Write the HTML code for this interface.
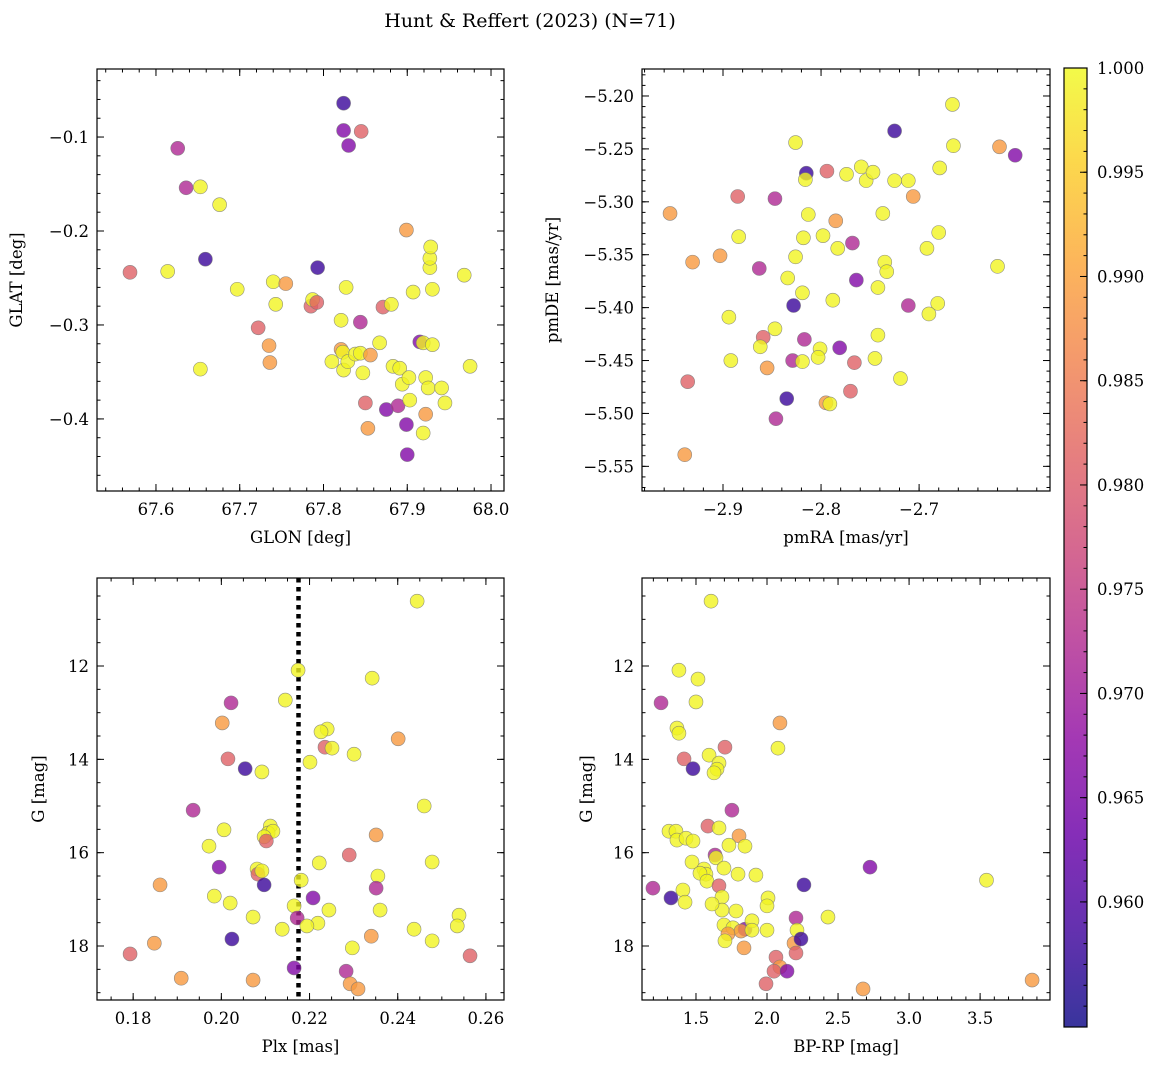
<!DOCTYPE html>
<html><head><meta charset="utf-8"><style>
body{margin:0;background:#fff;}
svg text{font-family:"DejaVu Serif","Liberation Serif",serif;fill:#000;}
</style></head><body>
<svg id="fig" width="1161" height="1068" viewBox="0 0 1161 1068" xmlns="http://www.w3.org/2000/svg">
<text x="530" y="27" font-size="19" text-anchor="middle">Hunt &amp; Reffert (2023) (N=71)</text>
</svg>
<script>
const Y=0.9995,O=0.989,P=0.981,M=0.972,V=0.966,B=0.958;
// Panel 1: GLON/GLAT
const glon=[67.824,67.824,67.830,67.845,67.626,67.636,67.653,67.676,67.569,67.614,67.659,67.697,67.722,67.740,67.743,67.755,67.793,67.653,67.735,67.736,67.785,67.787,67.792,67.827,67.821,67.821,67.823,67.824,67.829,67.810,67.838,67.844,67.847,67.844,67.856,67.850,67.853,67.867,67.871,67.881,67.875,67.883,67.891,67.889,67.894,67.899,67.899,67.900,67.902,67.903,67.907,67.915,67.919,67.919,67.922,67.922,67.925,67.927,67.927,67.928,67.930,67.930,67.941,67.945,67.968,67.975];
const glat=[-0.064,-0.093,-0.109,-0.094,-0.112,-0.154,-0.153,-0.172,-0.244,-0.243,-0.230,-0.262,-0.303,-0.254,-0.278,-0.256,-0.239,-0.347,-0.322,-0.340,-0.280,-0.273,-0.276,-0.260,-0.295,-0.326,-0.329,-0.348,-0.339,-0.339,-0.331,-0.297,-0.351,-0.330,-0.332,-0.383,-0.410,-0.319,-0.281,-0.278,-0.390,-0.344,-0.346,-0.386,-0.363,-0.199,-0.406,-0.438,-0.356,-0.380,-0.265,-0.318,-0.319,-0.415,-0.395,-0.356,-0.367,-0.239,-0.229,-0.217,-0.321,-0.262,-0.367,-0.383,-0.247,-0.344];
const prob1=[B,V,V,P,M,M,Y,Y,P,Y,B,Y,P,Y,Y,O,B,Y,O,O,P,Y,P,Y,Y,O,Y,Y,Y,Y,Y,M,Y,Y,O,P,O,Y,P,Y,V,Y,Y,M,Y,O,V,V,Y,Y,Y,V,Y,Y,O,Y,Y,Y,Y,Y,Y,Y,Y,Y,Y,Y];
// Panel 2: pmRA/pmDE
const pmra=[-2.666,-2.725,-2.665,-2.618,-2.602,-2.826,-2.794,-2.815,-2.816,-2.759,-2.754,-2.747,-2.774,-2.725,-2.711,-2.679,-2.706,-2.885,-2.847,-2.954,-2.813,-2.737,-2.785,-2.884,-2.818,-2.798,-2.768,-2.783,-2.692,-2.680,-2.931,-2.903,-2.826,-2.863,-2.735,-2.733,-2.620,-2.834,-2.819,-2.764,-2.742,-2.788,-2.828,-2.711,-2.681,-2.690,-2.894,-2.847,-2.817,-2.859,-2.742,-2.862,-2.781,-2.801,-2.803,-2.829,-2.819,-2.745,-2.766,-2.892,-2.855,-2.719,-2.936,-2.770,-2.835,-2.795,-2.791,-2.846,-2.939];
const pmde=[-5.208,-5.233,-5.247,-5.248,-5.256,-5.244,-5.271,-5.273,-5.279,-5.267,-5.280,-5.272,-5.274,-5.280,-5.280,-5.268,-5.295,-5.295,-5.297,-5.311,-5.312,-5.311,-5.318,-5.333,-5.334,-5.332,-5.339,-5.344,-5.344,-5.329,-5.357,-5.351,-5.352,-5.363,-5.357,-5.366,-5.361,-5.372,-5.386,-5.374,-5.381,-5.393,-5.398,-5.398,-5.396,-5.406,-5.409,-5.420,-5.430,-5.428,-5.426,-5.437,-5.438,-5.439,-5.447,-5.450,-5.451,-5.448,-5.452,-5.450,-5.457,-5.467,-5.470,-5.479,-5.486,-5.490,-5.491,-5.505,-5.539];
const prob2=[Y,B,Y,O,V,Y,P,B,Y,Y,Y,Y,Y,Y,Y,Y,O,P,M,O,Y,Y,O,Y,Y,Y,M,Y,Y,Y,O,O,Y,M,Y,Y,Y,Y,Y,V,Y,Y,B,M,Y,Y,Y,Y,M,P,Y,Y,V,Y,Y,M,Y,Y,P,Y,O,Y,P,P,B,O,Y,M,O];
// Panel 3: Plx/G
const plx=[0.2444,0.2174,0.2342,0.2022,0.2145,0.2002,0.2240,0.2226,0.2401,0.2235,0.2251,0.2015,0.2201,0.2301,0.2054,0.2092,0.2460,0.1936,0.2111,0.2106,0.2117,0.2097,0.2102,0.2006,0.2351,0.1972,0.2290,0.2222,0.2478,0.1995,0.2081,0.2083,0.2092,0.2097,0.2355,0.2351,0.2181,0.1861,0.1984,0.2020,0.2208,0.2360,0.2165,0.2244,0.2172,0.2072,0.2219,0.2138,0.2024,0.2194,0.2437,0.2539,0.2535,0.2340,0.2478,0.2297,0.1848,0.1793,0.2564,0.1909,0.2072,0.2165,0.2283,0.2292,0.2310];
const gmag3=[10.61,12.09,12.26,12.79,12.73,13.22,13.35,13.41,13.56,13.74,13.76,13.99,14.06,13.89,14.20,14.27,15.00,15.09,15.43,15.58,15.54,15.66,15.75,15.51,15.62,15.86,16.05,16.22,16.20,16.31,16.35,16.46,16.39,16.69,16.50,16.76,16.59,16.69,16.93,17.08,16.97,17.23,17.14,17.23,17.40,17.38,17.51,17.64,17.85,17.57,17.64,17.34,17.57,17.79,17.89,18.04,17.94,18.17,18.21,18.69,18.73,18.47,18.54,18.81,18.92];
const prob3=[Y,Y,Y,M,Y,O,Y,Y,O,P,Y,P,Y,Y,B,Y,Y,M,Y,Y,Y,Y,P,Y,O,Y,P,Y,Y,V,Y,P,Y,B,Y,M,Y,O,Y,Y,V,Y,Y,Y,M,Y,Y,Y,B,Y,Y,Y,Y,O,Y,Y,O,P,P,O,O,V,M,O,O];
const plxCut=0.2175;
// Panel 4: BP-RP/G
const bprp=[1.606,1.380,1.514,1.254,1.500,2.091,1.366,1.380,1.704,2.077,1.416,1.479,1.592,1.662,1.648,1.627,1.310,1.359,1.366,1.430,1.753,1.584,1.479,1.662,1.803,1.845,1.732,1.634,1.472,1.641,1.922,1.556,1.570,1.528,1.577,1.796,1.662,1.697,1.683,1.408,1.197,1.324,1.683,1.782,1.613,1.423,2.007,2.000,1.697,1.760,1.845,1.817,1.725,1.894,1.894,1.704,1.838,2.204,2.211,2.429,2.725,2.260,2.190,2.239,2.063,2.091,2.049,1.993,2.141,2.204,2.676,3.545,3.866,2.000];
const gmag4=[10.61,12.09,12.28,12.79,12.77,13.22,13.33,13.44,13.74,13.76,13.99,14.20,13.91,14.08,14.21,14.29,15.54,15.54,15.73,15.69,15.09,15.43,15.75,15.47,15.64,15.86,15.84,16.05,16.20,16.11,16.48,16.35,16.46,16.44,16.61,16.46,16.71,16.33,16.95,16.80,16.76,16.97,17.23,17.25,17.10,17.06,16.97,17.14,17.55,17.61,17.64,17.68,17.74,17.46,17.66,17.89,18.04,17.40,17.66,17.38,16.31,16.69,17.94,17.85,18.24,18.45,18.54,18.81,18.54,18.15,18.92,16.59,18.73,17.66];
const prob4=[Y,Y,Y,M,Y,O,Y,Y,P,Y,P,B,Y,Y,Y,Y,Y,Y,Y,Y,M,P,Y,Y,O,Y,Y,M,Y,Y,Y,Y,Y,Y,Y,Y,P,Y,Y,Y,M,B,Y,Y,Y,Y,Y,Y,Y,Y,V,O,O,Y,Y,Y,O,M,Y,Y,V,B,O,B,P,O,P,P,V,P,O,Y,O,Y];
const cbTicks=[0.960,0.965,0.970,0.975,0.980,0.985,0.990,0.995,1.000];
const cmin=0.954,cmax=1.0;

const NS="http://www.w3.org/2000/svg";
const svg=document.getElementById('fig');
function mk(tag,attrs,parent){const e=document.createElementNS(NS,tag);for(const k in attrs)e.setAttribute(k,attrs[k]);(parent||svg).appendChild(e);return e;}
const stops=["#0d0887","#41049d","#6a00a8","#8f0da4","#b12a90","#cc4778","#e16462","#f2844b","#fca636","#fcce25","#f0f921"];
function hex(h){return [parseInt(h.substr(1,2),16),parseInt(h.substr(3,2),16),parseInt(h.substr(5,2),16)];}
function plasma(t){t=Math.max(0,Math.min(1,t));const f=t*10,i=Math.min(9,Math.floor(f)),r=f-i;const a=hex(stops[i]),b=hex(stops[i+1]);return `rgb(${a.map((v,k)=>Math.round(v+(b[k]-v)*r)).join(',')})`;}
function col(p){return plasma((p-cmin)/(cmax-cmin));}
function fmt(v,d){return v<0?'\u2212'+Math.abs(v).toFixed(d):v.toFixed(d);}

function panel(o){
  const g=mk('g',{});  
  const sx=v=>o.x0+(v-o.xl[0])/(o.xl[1]-o.xl[0])*(o.x1-o.x0);
  const sy=v=>o.y1-(v-o.yl[0])/(o.yl[1]-o.yl[0])*(o.y1-o.y0);
  const clip='c'+o.name; const cp=mk('clipPath',{id:clip},g); mk('rect',{x:o.x0,y:o.y0,width:o.x1-o.x0,height:o.y1-o.y0},cp);
  const pts=mk('g',{'clip-path':`url(#${clip})`},g);
   
  if(o.vline!==undefined){const l=mk('line',{x1:sx(o.vline),x2:sx(o.vline),y1:o.y0,y2:o.y1,stroke:'#000','stroke-width':4.5,'stroke-dasharray':'4.5,4.5'},pts);
     }
  for(let i=0;i<o.xs.length;i++){
    const c=mk('circle',{cx:sx(o.xs[i]),cy:sy(o.ys[i]),r:7,fill:col(o.ps[i]),'fill-opacity':0.8,stroke:'#777','stroke-width':0.6,'stroke-opacity':0.8},pts);
     
  }
  mk('rect',{x:o.x0,y:o.y0,width:o.x1-o.x0,height:o.y1-o.y0,fill:'none',stroke:'#000','stroke-width':1.2},g);
  const tk=(v,len,axis)=>{ if(axis==='x'){const x=sx(v); if(x<o.x0-0.5||x>o.x1+0.5)return; mk('line',{x1:x,x2:x,y1:o.y1,y2:o.y1-len,stroke:'#000','stroke-width':1},g); mk('line',{x1:x,x2:x,y1:o.y0,y2:o.y0+len,stroke:'#000','stroke-width':1},g);}
    else{const y=sy(v); if(y<o.y0-0.5||y>o.y1+0.5)return; mk('line',{x1:o.x0,x2:o.x0+len,y1:y,y2:y,stroke:'#000','stroke-width':1},g); mk('line',{x1:o.x1,x2:o.x1-len,y1:y,y2:y,stroke:'#000','stroke-width':1},g);} };
  for(let v=Math.ceil(o.xl[0]/o.xmin)*o.xmin;v<=o.xl[1];v+=o.xmin)tk(v,3.5,'x');
  for(let v=Math.ceil(Math.min(...o.yl)/o.ymin)*o.ymin;v<=Math.max(...o.yl);v+=o.ymin)tk(v,3.5,'y');
  o.xt.forEach(v=>{tk(v,7,'x');const t=mk('text',{x:sx(v),y:o.y1+24,'font-size':16.5,'text-anchor':'middle'},g);t.textContent=fmt(v,o.xd);
    });
  o.yt.forEach(v=>{tk(v,7,'y');const t=mk('text',{x:o.x0-8,y:sy(v)+6,'font-size':16.5,'text-anchor':'end'},g);t.textContent=fmt(v,o.yd);
    });
  const xl=mk('text',{x:(o.x0+o.x1)/2,y:o.y1+52,'font-size':16.5,'text-anchor':'middle'},g);xl.textContent=o.xlab;
  
  const yx=o.ylx,yy=(o.y0+o.y1)/2;
  const yl=mk('text',{x:yx,y:yy,'font-size':16.5,'text-anchor':'middle',transform:`rotate(-90 ${yx} ${yy})`},g);yl.textContent=o.ylab;
  
}
panel({name:'glon-glat-panel',x0:97,x1:504,y0:69,y1:491,xl:[67.5296,68.0155],yl:[-0.4767,-0.0276],xs:glon,ys:glat,ps:prob1,
  xt:[67.6,67.7,67.8,67.9,68.0],xd:1,xmin:0.02,yt:[-0.1,-0.2,-0.3,-0.4],yd:1,ymin:0.02,xlab:'GLON [deg]',ylab:'GLAT [deg]',ylx:22});
panel({name:'proper-motion-panel',x0:642,x1:1050,y0:69,y1:491,xl:[-2.9826,-2.5665],yl:[-5.5733,-5.1745],xs:pmra,ys:pmde,ps:prob2,
  xt:[-2.9,-2.8,-2.7],xd:1,xmin:0.02,yt:[-5.20,-5.25,-5.30,-5.35,-5.40,-5.45,-5.50,-5.55],yd:2,ymin:0.01,xlab:'pmRA [mas/yr]',ylab:'pmDE [mas/yr]',ylx:558});
panel({name:'parallax-magnitude-panel',x0:97,x1:504,y0:578,y1:1000,xl:[0.1718,0.2641],yl:[19.157,10.114],xs:plx,ys:gmag3,ps:prob3,vline:plxCut,
  xt:[0.18,0.20,0.22,0.24,0.26],xd:2,xmin:0.005,yt:[12,14,16,18],yd:0,ymin:0.5,xlab:'Plx [mas]',ylab:'G [mag]',ylx:44});
panel({name:'color-magnitude-panel',x0:642,x1:1050,y0:578,y1:1000,xl:[1.120,3.992],yl:[19.157,10.114],xs:bprp,ys:gmag4,ps:prob4,
  xt:[1.5,2.0,2.5,3.0,3.5],xd:1,xmin:0.1,yt:[12,14,16,18],yd:0,ymin:0.5,xlab:'BP-RP [mag]',ylab:'G [mag]',ylx:592});
// colorbar
const cb=mk('g',{});  
const cx0=1064,cx1=1087,cy0=68,cy1=1027;
const grad=mk('linearGradient',{id:'cbg',x1:0,y1:1,x2:0,y2:0},cb);
for(let i=0;i<=20;i++)mk('stop',{offset:i/20,'stop-color':plasma(i/20)},grad);
mk('rect',{x:cx0,y:cy0,width:cx1-cx0,height:cy1-cy0,fill:'url(#cbg)','fill-opacity':0.82},cb);
mk('rect',{x:cx0,y:cy0,width:cx1-cx0,height:cy1-cy0,fill:'none',stroke:'#000','stroke-width':1.2},cb);
const cy=v=>cy1-(v-cmin)/(cmax-cmin)*(cy1-cy0);
for(let v=0.955;v<=1.0001;v+=0.001)mk('line',{x1:cx1,x2:cx1-3.5,y1:cy(v),y2:cy(v),stroke:'#000'},cb);
cbTicks.forEach(v=>{mk('line',{x1:cx1,x2:cx1-7,y1:cy(v),y2:cy(v),stroke:'#000'},cb);
  const t=mk('text',{x:1097,y:cy(v)+6,'font-size':16.5},cb);t.textContent=v.toFixed(3);
  });
</script>
</body></html>
